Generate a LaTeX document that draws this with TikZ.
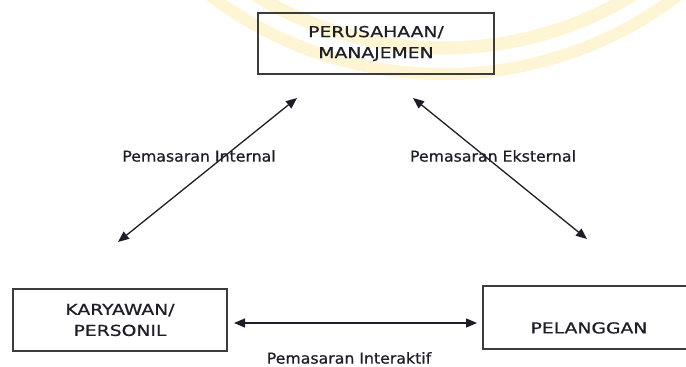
\documentclass[tikz,border=0pt]{standalone}
\usepackage{fontspec}
\setmainfont{DejaVu Sans}
\newfontfamily\capfont[FakeStretch=1.25,FakeBold=0.8]{DejaVu Sans}
\newfontfamily\labfont[FakeStretch=1.05,FakeBold=0.8]{DejaVu Sans}
\usetikzlibrary{arrows.meta}
\definecolor{wmyellow}{RGB}{254,245,212}
\definecolor{inkcol}{RGB}{30,30,40}
\definecolor{boxcol}{RGB}{60,60,60}
\tikzset{
  box/.style={draw=boxcol, line width=1.4pt, align=center, inner sep=0pt,
    font=\capfont\fontsize{15}{21}\selectfont, text=inkcol},
  lbl/.style={inner sep=0pt, font=\labfont\fontsize{15}{18}\selectfont, text=inkcol},
  dbl/.style={draw=inkcol, line width=1.3pt,
    {Triangle[length=11pt,width=9pt]}-{Triangle[length=11pt,width=9pt]}},
  wm/.style={draw=wmyellow}
}
\begin{document}
\begin{tikzpicture}[x=1pt,y=-1pt]
\useasboundingbox (0,0) rectangle (686,367);
\fill[white] (0,0) rectangle (686,367);
% faint watermark
\begin{scope}
  \clip (0,0) rectangle (686,367);
  \draw[wm, line width=12pt] (444,-314) circle (388pt);
  \draw[wm, line width=13pt] (444,-314) circle (362pt);
\end{scope}
% boxes
\node[box, minimum width=236pt, minimum height=61pt] (top) at (376,43.5)
  {PERUSAHAAN/\\MANAJEMEN};
\node[box, minimum width=214pt, minimum height=62pt] (left) at (120,320)
  {KARYAWAN/\\PERSONIL};
\node[box, minimum width=212pt, minimum height=63pt] (right) at (589,317.5)
  {\vphantom{P}\\PELANGGAN};
% arrow end points
\coordinate (a1) at (297,98);
\coordinate (a2) at (118,242);
\coordinate (b1) at (413,98);
\coordinate (b2) at (587,239);
\coordinate (c1) at (234,323);
\coordinate (c2) at (477,323);
\draw[dbl] (a2) -- (a1);
\draw[dbl] (b1) -- (b2);
\draw[dbl] (c1) -- (c2);
% labels
\node[lbl] (lint) at (199,156) {Pemasaran Internal};
\node[lbl] (lext) at (493,156) {Pemasaran Eksternal};
\node[lbl] (lia) at (349,358) {Pemasaran Interaktif};
\end{tikzpicture}
\end{document}
